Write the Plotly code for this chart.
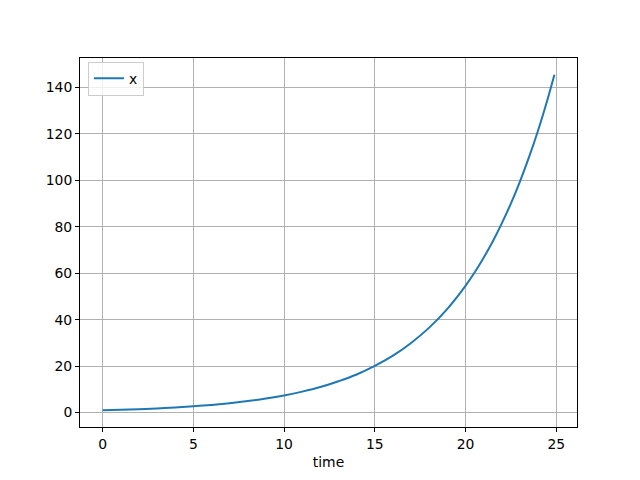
import plotly.graph_objects as go

# values
time = [0, 1, 2, 3, 4, 5, 6, 7, 8, 9, 10, 11, 12, 13, 14, 15, 16, 17, 18, 19, 20,
        20.5, 21, 21.5, 22, 22.5, 23, 23.5, 24, 24.5, 24.9]
x_vals = [1.0, 1.22, 1.49, 1.82, 2.23, 2.72, 3.32, 4.06, 4.95, 6.05, 7.39, 9.03,
          11.0, 13.5, 16.4, 20.1, 24.5, 30.0, 36.6, 44.7, 54.6,
          60.3, 66.7, 73.7, 81.5, 90.0, 99.5, 110.0, 121.5, 134.3, 145.5]
series_name = "x"
x_label = "time"
x_ticks = [0, 5, 10, 15, 20, 25]
y_ticks = [0, 20, 40, 60, 80, 100, 120, 140]

font = dict(family="DejaVu Sans", size=13.9, color="black")

fig = go.Figure()
fig.add_trace(go.Scatter(x=time, y=x_vals, mode="lines", name=series_name,
                         line=dict(color="#1f77b4", width=2, shape="spline"),
                         showlegend=True))

axis_common = dict(showline=True, linecolor="black", linewidth=1, mirror=True,
                   showgrid=True, gridcolor="#b0b0b0", gridwidth=1,
                   ticks="outside", ticklen=4, tickwidth=1, tickcolor="black",
                   zeroline=False, tickfont=font)

fig.update_layout(
    width=640, height=480,
    margin=dict(l=72, r=71, t=50, b=61),
    paper_bgcolor="white", plot_bgcolor="white",
    font=font,
    showlegend=True,
    legend=dict(x=0.016, y=0.99, xanchor="left", yanchor="top",
                bgcolor="rgba(255,255,255,0.8)", bordercolor="#cccccc", borderwidth=1,
                font=font, itemwidth=30),
    xaxis=dict(range=[-1.245, 26.145], tickvals=x_ticks,
               title=dict(text=x_label, font=font, standoff=6), **axis_common),
    yaxis=dict(range=[-6.2, 152.7], tickvals=y_ticks, **axis_common),
)

fig.write_html("out.html")
